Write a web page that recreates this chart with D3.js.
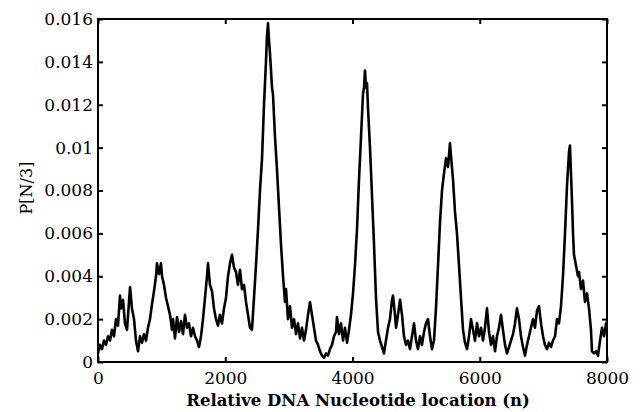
<!DOCTYPE html>
<html><head><meta charset="utf-8">
<script src="https://cdn.jsdelivr.net/npm/d3@7"></script>
<style>body{margin:0;background:#fff}svg{display:block}</style>
</head><body><svg id="c" width="642" height="412"></svg>
<script>
const nt = [0,31,63,94,126,157,189,220,251,283,314,346,361,393,424,456,487,503,534,566,597,629,660,692,723,754,786,817,849,880,912,927,959,990,1006,1037,1069,1100,1132,1163,1179,1210,1242,1273,1305,1336,1367,1399,1430,1462,1493,1525,1556,1587,1619,1650,1682,1713,1729,1760,1792,1823,1855,1886,1917,1949,1980,2012,2043,2075,2106,2138,2169,2200,2232,2263,2295,2326,2358,2389,2420,2452,2483,2515,2546,2578,2609,2640,2656,2672,2688,2703,2735,2750,2782,2813,2845,2876,2908,2939,2955,2986,3018,3049,3081,3112,3143,3175,3206,3238,3269,3301,3332,3363,3395,3426,3458,3489,3521,3552,3583,3615,3646,3678,3709,3741,3756,3788,3819,3851,3882,3914,3945,3976,4008,4039,4071,4102,4134,4165,4181,4196,4212,4228,4244,4275,4306,4338,4369,4401,4432,4464,4495,4526,4558,4589,4621,4637,4668,4684,4715,4747,4778,4809,4841,4872,4904,4935,4967,4998,5029,5061,5092,5124,5155,5187,5218,5249,5281,5312,5344,5375,5407,5438,5470,5501,5532,5548,5580,5611,5642,5674,5705,5737,5768,5800,5831,5862,5894,5925,5957,5988,6020,6051,6082,6114,6145,6177,6208,6240,6271,6302,6334,6365,6397,6428,6460,6491,6523,6554,6585,6617,6648,6680,6711,6743,6774,6805,6837,6868,6900,6931,6963,6994,7025,7057,7088,7120,7151,7183,7214,7245,7277,7308,7340,7371,7403,7418,7434,7450,7466,7481,7513,7544,7560,7591,7623,7654,7686,7717,7748,7764,7796,7827,7859,7890,7922,7953,7985,8000];
const power = [0.0004,0.0008,0.0006,0.0010,0.0008,0.0012,0.0010,0.0015,0.0012,0.0020,0.0017,0.0031,0.0025,0.0029,0.0018,0.0015,0.0028,0.0035,0.0025,0.0020,0.0010,0.0005,0.0012,0.0009,0.0013,0.0010,0.0016,0.0020,0.0027,0.0033,0.0040,0.0046,0.0041,0.0046,0.0040,0.0036,0.0030,0.0026,0.0022,0.0015,0.0020,0.0011,0.0021,0.0014,0.0019,0.0013,0.0022,0.0016,0.0018,0.0012,0.0016,0.0012,0.0010,0.0007,0.0012,0.0020,0.0030,0.0040,0.0046,0.0036,0.0033,0.0025,0.0020,0.0017,0.0022,0.0018,0.0025,0.0030,0.0040,0.0046,0.0050,0.0044,0.0042,0.0036,0.0043,0.0034,0.0036,0.0028,0.0022,0.0016,0.0015,0.0030,0.0045,0.0062,0.0080,0.0095,0.0120,0.0140,0.0152,0.0158,0.0150,0.0144,0.0128,0.0125,0.0105,0.0090,0.0072,0.0055,0.0040,0.0028,0.0034,0.0020,0.0026,0.0016,0.0020,0.0013,0.0018,0.0011,0.0016,0.0010,0.0015,0.0022,0.0028,0.0022,0.0016,0.0010,0.0008,0.0005,0.0003,0.0002,0.0004,0.0003,0.0006,0.0008,0.0012,0.0014,0.0021,0.0013,0.0018,0.0010,0.0016,0.0009,0.0015,0.0022,0.0032,0.0045,0.0062,0.0085,0.0105,0.0125,0.0128,0.0136,0.0128,0.0130,0.0118,0.0100,0.0078,0.0055,0.0030,0.0014,0.0010,0.0007,0.0004,0.0010,0.0016,0.0020,0.0029,0.0031,0.0022,0.0016,0.0022,0.0029,0.0022,0.0012,0.0008,0.0010,0.0006,0.0012,0.0018,0.0010,0.0006,0.0012,0.0008,0.0014,0.0018,0.0020,0.0012,0.0006,0.0010,0.0025,0.0045,0.0065,0.0080,0.0088,0.0095,0.0091,0.0102,0.0096,0.0085,0.0070,0.0060,0.0045,0.0030,0.0015,0.0009,0.0006,0.0012,0.0020,0.0015,0.0010,0.0018,0.0012,0.0016,0.0010,0.0016,0.0025,0.0014,0.0008,0.0012,0.0005,0.0012,0.0016,0.0022,0.0015,0.0008,0.0004,0.0007,0.0010,0.0013,0.0018,0.0025,0.0020,0.0012,0.0007,0.0003,0.0008,0.0012,0.0016,0.0020,0.0016,0.0024,0.0026,0.0018,0.0012,0.0008,0.0006,0.0009,0.0007,0.0010,0.0012,0.0020,0.0018,0.0026,0.0040,0.0060,0.0082,0.0098,0.0101,0.0088,0.0075,0.0060,0.0050,0.0045,0.0040,0.0042,0.0034,0.0038,0.0028,0.0032,0.0025,0.0015,0.0005,0.0004,0.0005,0.0003,0.0010,0.0016,0.0012,0.0018,0.0017];
const xTicks = [0,2000,4000,6000,8000];
const yTicks = [0,0.002,0.004,0.006,0.008,0.01,0.012,0.014,0.016];
const yTickLabels = ["0","0.002","0.004","0.006","0.008","0.01","0.012","0.014","0.016"];
const xLabel = "Relative DNA Nucleotide location (n)";
const yLabel = "P[N/3]";

const W = 642, H = 412, m = {l:98, r:35, t:19, b:50};
const svg = d3.select("#c");
const x = d3.scaleLinear().domain([0,8000]).range([m.l, W-m.r]);
const y = d3.scaleLinear().domain([0,0.016]).range([H-m.b, m.t]);
const font = "'DejaVu Serif', serif";

const g = svg.append("g");
const line = d3.line().x((d,i)=>x(nt[i])).y(d=>y(d));
g.append("path").datum(power).attr("d", line).attr("fill","none").attr("stroke","#000").attr("stroke-width",2.6).attr("stroke-linejoin","round");

const tl = 5;
const xb = svg.append("g").attr("transform",`translate(0,${H-m.b})`).call(d3.axisBottom(x).tickValues(xTicks).tickSize(-tl).tickPadding(10).tickFormat(d3.format("d")));
const xt = svg.append("g").attr("transform",`translate(0,${m.t})`).call(d3.axisTop(x).tickValues(xTicks).tickSize(-tl).tickFormat(""));
const yl = svg.append("g").attr("transform",`translate(${m.l},0)`).call(d3.axisLeft(y).tickValues(yTicks).tickSize(-tl).tickPadding(5).tickFormat((d,i)=>yTickLabels[i]));
const yr = svg.append("g").attr("transform",`translate(${W-m.r},0)`).call(d3.axisRight(y).tickValues(yTicks).tickSize(-tl).tickFormat(""));
[xb,xt,yl,yr].forEach(a=>{
  a.select(".domain").remove();
  a.selectAll(".tick line").attr("stroke","#000").attr("stroke-width",2);
  a.selectAll("text").attr("font-family",font).attr("font-size",17).attr("fill","#000");
});
svg.append("rect").attr("x",m.l).attr("y",m.t).attr("width",W-m.l-m.r).attr("height",H-m.t-m.b).attr("fill","none").attr("stroke","#000").attr("stroke-width",2);

svg.append("text").attr("x",358).attr("y",406).attr("text-anchor","middle").attr("font-family",font).attr("font-weight","bold").attr("font-size",16.5).text(xLabel);
svg.append("text").attr("transform",`translate(32,188) rotate(-90)`).attr("text-anchor","middle").attr("font-family",font).attr("font-size",16).text(yLabel);
</script></body></html>
